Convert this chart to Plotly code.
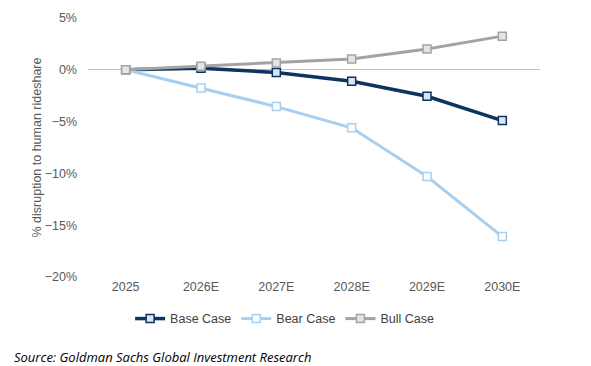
import plotly.graph_objects as go

years = ["2025", "2026E", "2027E", "2028E", "2029E", "2030E"]
base_case = [0.0, 0.15, -0.25, -1.1, -2.55, -4.9]
bear_case = [0.0, -1.75, -3.55, -5.6, -10.3, -16.1]
bull_case = [0.0, 0.35, 0.65, 1.05, 2.0, 3.25]

series = [
    ("Base Case", base_case, "#0c3461", "#dce6f1", 3.5),
    ("Bear Case", bear_case, "#a8cff0", "#ffffff", 3),
    ("Bull Case", bull_case, "#a3a3a3", "#e4e4e4", 3),
]

fig = go.Figure()
for name, vals, col, fill, w in series:
    fig.add_trace(go.Scatter(
        x=years, y=vals, name=name, mode="lines+markers",
        line=dict(color=col, width=w),
        marker=dict(symbol="square", size=8, color=fill, line=dict(color=col, width=1.5)),
    ))

# page body has an 8px margin; compensate in figure margins
fig.update_layout(
    width=591, height=366,
    margin=dict(l=80, r=59, t=10, b=97, autoexpand=False),
    paper_bgcolor="white", plot_bgcolor="white",
    font=dict(family="Liberation Sans, Arial, sans-serif", size=12, color="#595959"),
    showlegend=True,
    legend=dict(orientation="h", x=0.435, xanchor="center", y=-0.162, yanchor="middle",
                font=dict(size=12.5, color="#404040"), bgcolor="rgba(0,0,0,0)"),
    xaxis=dict(type="category", range=[-0.5, 5.5], showgrid=False, zeroline=False,
               showline=False, ticks="", tickfont=dict(size=12.5, color="#595959")),
    yaxis=dict(range=[-20, 5], dtick=5, ticksuffix="%", showgrid=False,
               zeroline=True, zerolinecolor="#bfbfbf", zerolinewidth=1,
               showline=False, ticks="", ticklabelstandoff=10,
               tickfont=dict(size=12.5, color="#595959"),
               title=dict(text="% disruption to human rideshare", standoff=0,
                          font=dict(size=12.5, color="#595959"))),
)

fig.add_annotation(
    text="<i>Source: Goldman Sachs Global Investment Research</i>",
    xref="paper", yref="paper", x=-76/452, y=-80/259, xanchor="left", yanchor="middle",
    showarrow=False, font=dict(family="Open Sans, sans-serif", size=13, color="#000000"),
)

fig.write_html("out.html")
